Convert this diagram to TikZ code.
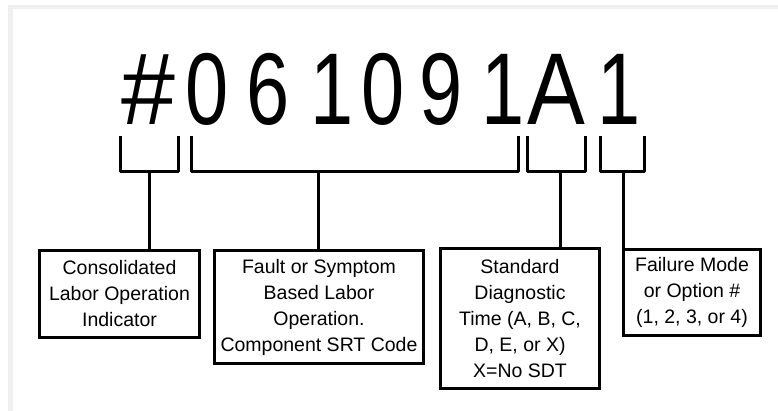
\documentclass[tikz,border=0pt]{standalone}
\usepackage{fontspec}
\setmainfont{Liberation Sans}
\definecolor{framegray}{HTML}{EFEFEF}
\tikzset{
  bigchar/.style={anchor=base, inner sep=0pt, font=\fontsize{102}{102}\selectfont},
  infobox/.style={draw, line width=3pt, align=center, inner sep=0pt,
    font=\fontsize{19.5}{26}\selectfont},
  brace/.style={line width=3pt, line join=round},
  stem/.style={line width=3pt}
}
\newcommand{\bc}[1]{\scalebox{0.76}[1]{#1}}
\begin{document}
\begin{tikzpicture}[x=1pt,y=-1pt]
\fill[white] (0,0) rectangle (778,411);
\useasboundingbox (0,0) rectangle (778,411);
\fill[framegray] (8,5) rectangle (778,9);
\fill[framegray] (8,5) rectangle (13,411);
% code characters
\node[bigchar] (c1) at (148,125) {\scalebox{0.95}[1]{\#}};
\node[bigchar] (c2) at (207.5,125) {\bc{0}};
\node[bigchar] (c3) at (268,125) {\bc{6}};
\node[bigchar] (c4) at (332.5,125) {\bc{1}};
\node[bigchar] (c5) at (383.5,125) {\bc{0}};
\node[bigchar] (c6) at (441,125) {\bc{9}};
\node[bigchar] (c7) at (503.5,125) {\bc{1}};
\node[bigchar] (c8) at (556,125) {\scalebox{0.85}[1]{A}};
\node[bigchar] (c9) at (619,125) {\bc{1}};
% brackets
\draw[brace] (120,136) -- (120,172) -- (178,172) -- (178,136);
\draw[brace] (191,136) -- (191,172) -- (518,172) -- (518,136);
\draw[brace] (527,136) -- (527,172) -- (585,172) -- (585,136);
\draw[brace] (600,136) -- (600,172) -- (644,172) -- (644,136);
\coordinate (b1) at (149,172);
\coordinate (b2) at (318,172);
\coordinate (b3) at (560,172);
\coordinate (b4) at (623,172);
% boxes
\node[infobox, minimum width=160pt, minimum height=87pt] (box1) at (119.5,294)
  {Consolidated\\Labor Operation\\Indicator};
\node[infobox, minimum width=209pt, minimum height=113pt] (box2) at (319,307)
  {Fault or Symptom\\Based Labor\\Operation.\\Component SRT Code};
\node[infobox, minimum width=159pt, minimum height=140pt] (box3) at (520,318.5)
  {Standard\\Diagnostic\\Time (A, B, C,\\D, E, or X)\\X=No SDT};
\node[infobox, minimum width=137pt, minimum height=86pt] (box4) at (692,292.5)
  {Failure Mode\\or Option \#\\(1, 2, 3, or 4)};
% stems
\draw[stem] (b1) -- (b1 |- box1.north);
\draw[stem] (b2) -- (b2 |- box2.north);
\draw[stem] (b3) -- (b3 |- box3.north);
\draw[stem] (b4) -- (b4 |- box4.north);
\end{tikzpicture}
\end{document}
